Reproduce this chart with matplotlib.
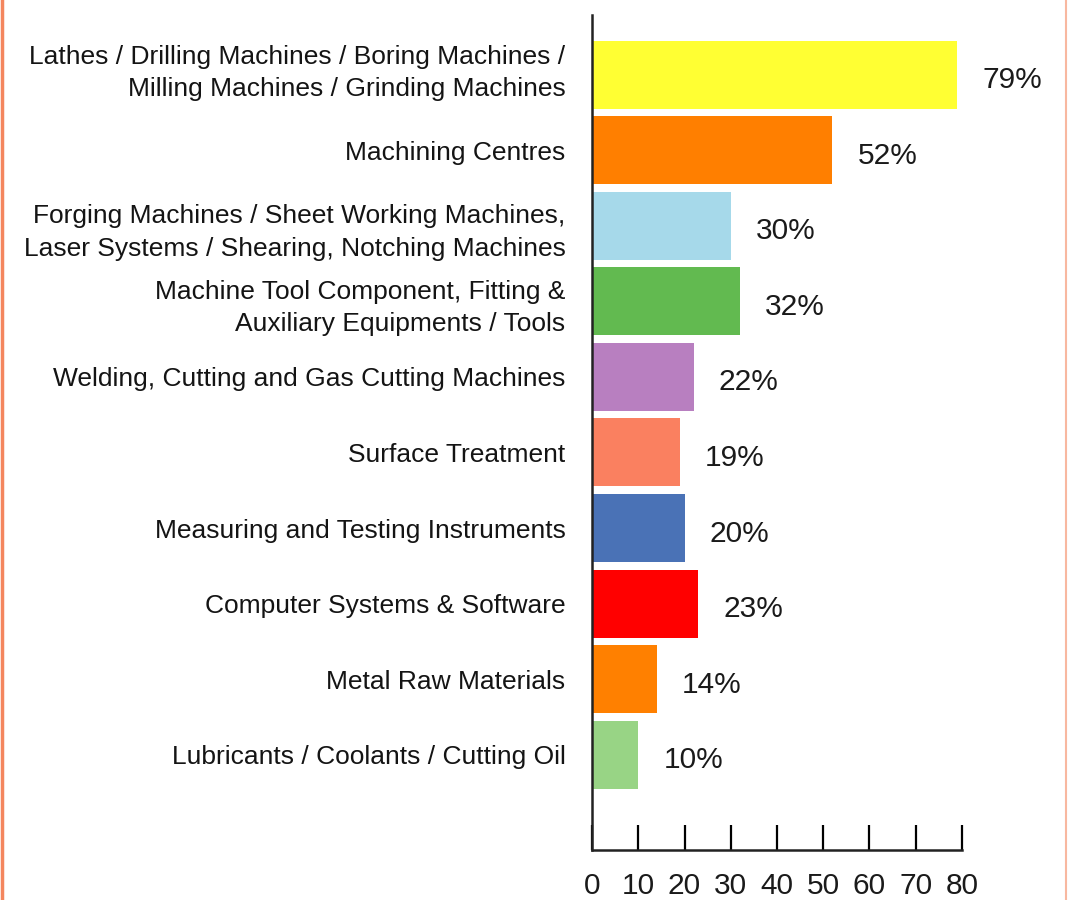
import matplotlib.pyplot as plt
import matplotlib.transforms as mtransforms
from matplotlib.lines import Line2D

# data
categories = [
    "Lathes / Drilling Machines / Boring Machines /\nMilling Machines / Grinding Machines",
    "Machining Centres",
    "Forging Machines / Sheet Working Machines,\nLaser Systems / Shearing, Notching Machines",
    "Machine Tool Component, Fitting &\nAuxiliary Equipments / Tools",
    "Welding, Cutting and Gas Cutting Machines",
    "Surface Treatment",
    "Measuring and Testing Instruments",
    "Computer Systems & Software",
    "Metal Raw Materials",
    "Lubricants / Coolants / Cutting Oil",
]
values = [79, 52, 30, 32, 22, 19, 20, 23, 14, 10]
colors = ["#FFFF33", "#FF7F00", "#A6D9EA", "#62BA50", "#B87FC0",
          "#FA8060", "#4A72B6", "#FF0000", "#FF8000", "#98D485"]
xticks = [0, 10, 20, 30, 40, 50, 60, 70, 80]

plt.rcParams['font.family'] = ['Liberation Sans', 'DejaVu Sans']

fig = plt.figure(figsize=(10.69, 9.0), dpi=100)
ax = fig.add_axes([0.5538, 0.0556, 0.3461, 0.9278])

ypos = list(range(len(values)))
ax.barh(ypos, values, height=0.9, color=colors)

for y, v in zip(ypos, values):
    ax.annotate(f"{v}%", (v, y), xytext=(18, -4), textcoords="offset points",
                ha="left", va="center", fontsize=21.5, color="#1a1a1a",
                annotation_clip=False)

ax.set_xlim(0, 80)
ax.set_ylim(len(values) - 1 + 1.26, -0.79)
ax.set_xticks(xticks)
ax.set_yticks(ypos)
ax.set_yticklabels(categories, fontsize=19, color="#141414", linespacing=1.45)
ax.tick_params(axis="y", length=0, pad=19)
ax.tick_params(axis="x", direction="in", length=18, width=1.6, pad=16,
               labelsize=21.5, labelcolor="#1a1a1a")

# first label sits a little higher in the original
first = ax.get_yticklabels()[0]
first.set_transform(first.get_transform() +
                    mtransforms.ScaledTranslation(0, 6 / 72, fig.dpi_scale_trans))

for s in ["top", "right"]:
    ax.spines[s].set_visible(False)
for s in ["left", "bottom"]:
    ax.spines[s].set_linewidth(1.8)
    ax.spines[s].set_color("#222222")

# orange page border at the edges
fig.add_artist(Line2D([0.0015, 0.0015], [0, 1], color="#F4865E", lw=2.5,
                      transform=fig.transFigure))
fig.add_artist(Line2D([0.9975, 0.9975], [0, 1], color="#F8B8A0", lw=1.5,
                      transform=fig.transFigure))

plt.savefig("out.png", dpi=100)
